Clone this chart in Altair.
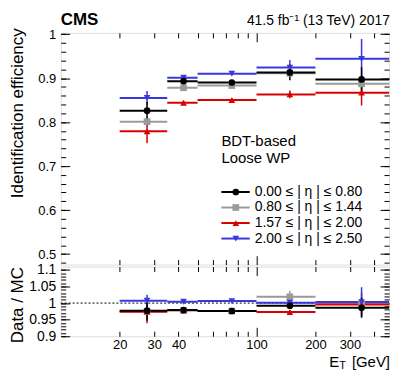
import altair as alt
import pandas as pd

# ---------------- data ----------------
bin_low = [20, 35, 50, 100, 200]
bin_high = [35, 50, 100, 200, 500]
bin_center = [27.6, 42.4, 74.8, 148, 344]

series_names = ["0.00 ≤ | η | ≤ 0.80", "0.80 ≤ | η | ≤ 1.44",
                "1.57 ≤ | η | ≤ 2.00", "2.00 ≤ | η | ≤ 2.50"]
series_colors = ["#000000", "#9a9a9a", "#d80000", "#3838e0"]
series_shapes = ["circle", "square", "triangle-up", "triangle-down"]

eff_0 = [0.826, 0.893, 0.890, 0.913, 0.897]
eff_0_err = [0.020, 0.006, 0.005, 0.018, 0.028]
eff_1 = [0.801, 0.878, 0.883, 0.911, 0.887]
eff_1_err = [0.010, 0.006, 0.005, 0.008, 0.020]
eff_2 = [0.779, 0.844, 0.850, 0.863, 0.867]
eff_2_err = [0.027, 0.004, 0.005, 0.009, 0.029]
eff_3 = [0.855, 0.901, 0.910, 0.924, 0.944]
eff_3_err = [0.016, 0.005, 0.004, 0.017, 0.045]

ratio_0 = [0.977, 0.979, 0.976, 0.992, 0.986]
ratio_0_err = [0.030, 0.004, 0.004, 0.010, 0.030]
ratio_1 = [0.975, 0.978, 0.976, 1.019, 0.997]
ratio_1_err = [0.010, 0.004, 0.004, 0.018, 0.020]
ratio_2 = [0.974, 0.978, 0.976, 0.973, 0.996]
ratio_2_err = [0.035, 0.004, 0.004, 0.006, 0.035]
ratio_3 = [1.007, 1.004, 1.006, 1.001, 1.003]
ratio_3_err = [0.018, 0.004, 0.003, 0.008, 0.045]

x_major_ticks = [100]
x_minor_ticks = [20, 30, 40, 50, 60, 70, 80, 90, 200, 300, 400]
x_labels = [20, 30, 40, 100, 200, 300]
top_major = [0.5, 0.6, 0.7, 0.8, 0.9, 1.0]
top_minor = [round(0.48 + 0.02 * i, 2) for i in range(27)]
bot_major = [0.9, 0.95, 1.0, 1.05, 1.1]
bot_minor = [round(0.9 + 0.01 * i, 2) for i in range(21)]

FONT = "Liberation Sans"
draw_order = [1, 2, 3, 0]

W = 330
H_TOP = 233
H_BOT = 70


def build(vals, errs):
    rows = []
    for k in draw_order:
        for i in range(5):
            rows.append(dict(series=series_names[k], lo=bin_low[i], hi=bin_high[i],
                             c=bin_center[i], v=vals[k][i],
                             elo=vals[k][i] - errs[k][i], ehi=vals[k][i] + errs[k][i]))
    return pd.DataFrame(rows)


df_top = build([eff_0, eff_1, eff_2, eff_3], [eff_0_err, eff_1_err, eff_2_err, eff_3_err])
df_bot = build([ratio_0, ratio_1, ratio_2, ratio_3],
               [ratio_0_err, ratio_1_err, ratio_2_err, ratio_3_err])
one = pd.DataFrame({"a": [0]})

xs = alt.Scale(type="log", domain=[10, 475], nice=False)
color_sc = alt.Scale(domain=series_names, range=series_colors)
shape_sc = alt.Scale(domain=series_names, range=series_shapes)


def tick_axis(orient, values, size):
    return alt.Axis(orient=orient, values=values, labels=False, ticks=True,
                    tickSize={"expr": str(-size)}, tickColor="black", tickWidth=1,
                    domain=False, grid=False, title=None)


def label_axis(orient, values, fs, pad, **kw):
    return alt.Axis(orient=orient, values=values, ticks=False, labels=True,
                    format="~g", labelFont=FONT, labelFontSize=fs, labelColor="black",
                    labelPadding=pad, labelFlush=False, labelOverlap=False,
                    domain=False, grid=False, **kw)


def panel(df, ys, y_major, y_minor, y_label_axis, with_x_labels, w, h, extras):
    def carrier(xaxis, yaxis):
        return alt.Chart(df).mark_point(opacity=0).encode(
            x=alt.X("c:Q", scale=xs, axis=xaxis),
            y=alt.Y("v:Q", scale=ys, axis=yaxis))

    carriers = [
        carrier(tick_axis("bottom", x_major_ticks, 9), y_label_axis),
        carrier(tick_axis("bottom", x_minor_ticks, 5), tick_axis("left", y_major, 9)),
        carrier(tick_axis("top", x_major_ticks, 9), tick_axis("left", y_minor, 5)),
        carrier(tick_axis("top", x_minor_ticks, 5), tick_axis("right", y_major, 9)),
        carrier(label_axis("bottom", x_labels, 13, 2, title=None) if with_x_labels else None,
                tick_axis("right", y_minor, 5)),
    ]
    base = alt.Chart(df)
    hbars = base.mark_rule(strokeWidth=2, clip=True).encode(
        x=alt.X("lo:Q", scale=xs, axis=None), x2="hi:Q",
        y=alt.Y("v:Q", scale=ys, axis=None),
        color=alt.Color("series:N", scale=color_sc, legend=None))
    vbars = base.mark_rule(strokeWidth=1.5, clip=True).encode(
        x=alt.X("c:Q", scale=xs, axis=None),
        y=alt.Y("elo:Q", scale=ys, axis=None), y2="ehi:Q",
        color=alt.Color("series:N", scale=color_sc, legend=None))
    pts = base.mark_point(filled=True, opacity=1, size=45, strokeWidth=0).encode(
        x=alt.X("c:Q", scale=xs, axis=None),
        y=alt.Y("v:Q", scale=ys, axis=None),
        color=alt.Color("series:N", scale=color_sc, legend=None),
        shape=alt.Shape("series:N", scale=shape_sc, legend=None))
    layers = carriers + extras(ys) + [hbars, vbars, pts]
    return alt.layer(*layers).resolve_axis(x="independent", y="independent").properties(
        width=w, height=h)


def text(x, y, s, fs, align="left", baseline="alphabetic", weight="normal"):
    return alt.Chart(one).mark_text(text=s, font=FONT, fontSize=fs, align=align,
                                    baseline=baseline, fontWeight=weight,
                                    color="black").encode(x=alt.value(x), y=alt.value(y))


def top_extras(ys):
    out = [
        text(0, -8, "CMS", 17, weight="bold"),
        text(W + 1, -8, "41.5 fb⁻¹ (13 TeV) 2017", 14, align="right"),
        text(161.5, 114, "BDT-based", 15),
        text(161.5, 131, "Loose WP", 15),
    ]
    for i, k in enumerate(range(4)):
        yy = 160 + 15.6 * i
        out.append(alt.Chart(one).mark_rule(strokeWidth=2, color=series_colors[k]).encode(
            x=alt.value(161.5), x2=alt.value(190), y=alt.value(yy)))
        out.append(alt.Chart(one).mark_point(filled=True, opacity=1, size=45, strokeWidth=0,
                                             shape=series_shapes[k],
                                             color=series_colors[k]).encode(
            x=alt.value(176), y=alt.value(yy)))
        out.append(text(195, yy, series_names[k], 14, baseline="middle"))
    return out


def bot_extras(ys):
    unity = alt.Chart(pd.DataFrame({"u": [1.0]})).mark_rule(
        strokeDash=[2, 2], strokeWidth=1, color="black").encode(
        y=alt.Y("u:Q", scale=ys, axis=None))
    return [
        unity,
        text(270, 100.5, "E", 15),
        text(280, 103, "T", 11),
        text(W + 1, 100.5, "[GeV]", 15, align="right"),
    ]


ys_top = alt.Scale(domain=[0.476, 1.003], nice=False, zero=False)
ys_bot = alt.Scale(domain=[0.9, 1.11], nice=False, zero=False)

top_label_axis = label_axis("left", top_major, 13, 5, title="Identification efficiency",
                            titleFont=FONT, titleFontSize=17, titleFontWeight="normal",
                            titleColor="black", titleAngle=270, titleAlign="right",
                            titleBaseline="alphabetic", titleX=-38, titleY=-5)
bot_label_axis = label_axis("left", bot_major, 14, 5, title="Data / MC",
                            titleFont=FONT, titleFontSize=17, titleFontWeight="normal",
                            titleColor="black", titleAngle=270, titleAlign="right",
                            titleBaseline="alphabetic", titleX=-38, titleY=0)

top = panel(df_top, ys_top, top_major, top_minor, top_label_axis, False, W, H_TOP, top_extras)
bot = panel(df_bot, ys_bot, bot_major, bot_minor, bot_label_axis, True, W, H_BOT, bot_extras)

chart = alt.vconcat(top, bot, spacing=2, bounds="flush").properties(
    padding={"left": 0, "top": 1, "right": 0, "bottom": 0}
).configure_view(stroke="black", strokeWidth=2).configure(background="white")

chart.save("out.html", embed_options={"renderer": "svg", "actions": False})
